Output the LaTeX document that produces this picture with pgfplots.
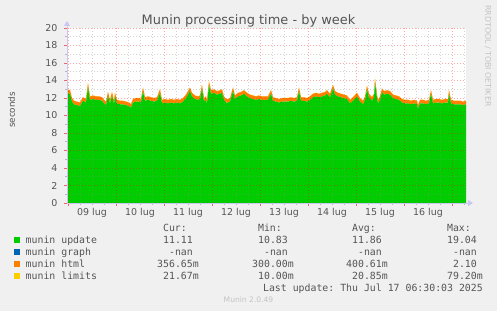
\documentclass[border=0pt]{standalone}
\usepackage{fontspec}
\setmainfont{DejaVu Sans}
\setmonofont{DejaVu Sans Mono}
\usepackage{pgfplots}
\usepackage{pgfplotstable}
\pgfplotsset{compat=1.18}
\usetikzlibrary{arrows.meta}

\definecolor{bgc}{HTML}{F0F0F0}
\definecolor{txt}{HTML}{555555}
\definecolor{cgreen}{HTML}{00CC00}
\definecolor{cblue}{HTML}{0066B3}
\definecolor{corange}{HTML}{FF8000}
\definecolor{cyellow}{HTML}{FFCC00}
\definecolor{lav}{HTML}{C8C8F0}
\definecolor{mgrid}{HTML}{FF0000}
\definecolor{ngrid}{HTML}{909090}
\definecolor{wm}{HTML}{C4C4C4}

\newcommand\legfont{\ttfamily\fontsize{9.9}{12}\selectfont}
\newcommand\axfont{\fontsize{9.5}{11}\selectfont}

\pgfplotstableread{
h upd html lim
-0.5 12.58 0.40 0.02
1 12.48 0.40 0.02
2 11.58 0.40 0.02
3 11.28 0.40 0.02
4.5 11.18 0.40 0.02
6 11.08 0.40 0.02
7.5 11.68 0.40 0.02
9 11.48 0.40 0.02
10 13.28 0.40 0.02
11 11.78 0.40 0.02
12.5 11.88 0.40 0.02
14 11.78 0.40 0.02
15.5 11.78 0.40 0.02
17 11.68 0.40 0.02
18 11.38 0.40 0.02
19 11.18 0.40 0.02
20 12.28 0.40 0.02
21 11.38 0.40 0.02
22 12.28 0.40 0.02
23 11.28 0.40 0.02
23.5 12.18 0.40 0.02
24.5 11.38 0.40 0.02
26 11.28 0.40 0.02
27.5 11.28 0.40 0.02
29 11.18 0.40 0.02
30.5 11.08 0.40 0.02
31.5 10.88 0.40 0.02
32.5 11.48 0.40 0.02
34 11.58 0.40 0.02
35.5 11.58 0.40 0.02
36.5 11.48 0.40 0.02
37.5 12.78 0.40 0.02
38.5 11.68 0.40 0.02
40 11.78 0.40 0.02
41.5 11.68 0.40 0.02
43 11.58 0.40 0.02
44.5 11.68 0.40 0.02
46 12.58 0.40 0.02
47 11.38 0.40 0.02
48.5 11.48 0.40 0.02
50 11.38 0.40 0.02
51.5 11.48 0.40 0.02
53 11.38 0.40 0.02
54.5 11.48 0.40 0.02
56 11.38 0.40 0.02
57.5 11.58 0.40 0.02
59 11.98 0.40 0.02
60 12.38 0.40 0.02
61 12.78 0.40 0.02
62 12.18 0.40 0.02
63.5 11.88 0.40 0.02
65 11.78 0.40 0.02
66 11.88 0.40 0.02
67 13.08 0.40 0.02
68 11.58 0.40 0.02
69 11.78 0.40 0.02
69.5 11.38 0.40 0.02
70.5 13.48 0.40 0.02
71.5 12.48 0.40 0.02
73 12.58 0.40 0.02
74.5 12.38 0.40 0.02
76 12.48 0.40 0.02
77 12.58 0.40 0.02
78 11.78 0.40 0.02
79 11.48 0.40 0.02
80 11.48 0.40 0.02
81 11.58 0.40 0.02
82.5 12.78 0.40 0.02
83.5 11.88 0.40 0.02
85 12.18 0.40 0.02
86.5 12.28 0.40 0.02
88 12.48 0.40 0.02
89.5 12.18 0.40 0.02
91 11.98 0.40 0.02
92.5 11.88 0.40 0.02
94 11.78 0.40 0.02
95.5 11.88 0.40 0.02
97 11.78 0.40 0.02
98.5 11.78 0.40 0.02
100 11.78 0.40 0.02
101.5 12.48 0.40 0.02
102.5 11.68 0.40 0.02
104 11.58 0.40 0.02
105.5 11.48 0.40 0.02
107 11.58 0.40 0.02
108.5 11.58 0.40 0.02
110 11.58 0.40 0.02
111.5 11.68 0.40 0.02
113 11.58 0.40 0.02
114.5 11.68 0.40 0.02
115.5 12.78 0.40 0.02
116.5 11.68 0.40 0.02
118 11.68 0.40 0.02
119.5 11.58 0.40 0.02
121 11.78 0.40 0.02
122.5 12.08 0.40 0.02
124 12.18 0.40 0.02
125.5 12.08 0.40 0.02
127 12.18 0.40 0.02
128.5 12.28 0.40 0.02
129.5 12.48 0.40 0.02
131 12.08 0.40 0.02
132.5 13.08 0.40 0.02
133.5 12.38 0.40 0.02
135 12.18 0.40 0.02
136.5 12.08 0.40 0.02
138 11.98 0.40 0.02
139.5 11.88 0.40 0.02
141 11.38 0.40 0.02
142.5 11.68 0.40 0.02
144.5 12.18 0.40 0.02
146 11.58 0.40 0.02
147.5 11.28 0.40 0.02
148.5 11.78 0.40 0.02
149.5 12.98 0.40 0.02
150.5 12.08 0.40 0.02
152 11.68 0.40 0.02
153 12.08 0.40 0.02
153.5 13.78 0.40 0.02
154.5 11.98 0.40 0.02
155 11.38 0.40 0.02
156 11.78 0.40 0.02
157 12.68 0.40 0.02
158 12.38 0.40 0.02
159.5 12.48 0.40 0.02
161 12.38 0.40 0.02
162.5 11.98 0.40 0.02
164 11.88 0.40 0.02
165.5 11.78 0.40 0.02
167 11.48 0.40 0.02
168.5 11.38 0.40 0.02
170 11.38 0.40 0.02
171.5 11.28 0.40 0.02
173 11.38 0.40 0.02
174.5 11.28 0.40 0.02
175 10.78 0.40 0.02
176 11.38 0.40 0.02
177.5 11.38 0.40 0.02
179 11.28 0.40 0.02
180.5 11.38 0.40 0.02
181.5 12.48 0.40 0.02
182.5 11.38 0.40 0.02
184 11.48 0.40 0.02
185.5 11.48 0.40 0.02
187 11.38 0.40 0.02
188.5 11.48 0.40 0.02
190 11.48 0.40 0.02
190.5 12.48 0.40 0.02
191.5 11.38 0.40 0.02
193 11.28 0.40 0.02
194.5 11.28 0.40 0.02
196 11.28 0.40 0.02
197.5 11.18 0.40 0.02
199 11.28 0.40 0.02
}\data

\begin{document}
\begin{tikzpicture}[x=1bp,y=1bp]
\fill[bgc] (0,0) rectangle (497,311);
\useasboundingbox (0,0) rectangle (497,311);
\begin{axis}[
  at={(67bp,108bp)}, anchor=south west,
  scale only axis, width=399bp, height=175bp,
  xmin=-0.5, xmax=199, ymin=0, ymax=20,
  stack plots=y,
  axis background/.style={fill=white},
  axis on top,
  axis lines=left,
  axis line style={draw=lav, line width=0.9bp, -{Triangle[length=5bp,width=6bp]}, shorten >=-7bp},
  xtick={0,24,...,192}, xticklabels={},
  minor xtick={6,12,18,30,36,42,54,60,66,78,84,90,102,108,114,126,132,138,150,156,162,174,180,186,198},
  extra x ticks={12,36,60,84,108,132,156,180},
  extra x tick labels={09 lug,10 lug,11 lug,12 lug,13 lug,14 lug,15 lug,16 lug},
  extra x tick style={grid=none, major tick length=0pt, tick style={draw=none}},
  ytick={0,2,...,20}, minor ytick={1,3,...,19},
  grid=both,
  major grid style={draw=mgrid, draw opacity=0.35, line width=0.6bp, dash pattern=on 1bp off 2bp},
  minor grid style={draw=ngrid, draw opacity=0.4, line width=0.6bp, dash pattern=on 1bp off 2bp},
  tick align=outside,
  major tick length=3bp, minor tick length=2bp,
  major tick style={draw=mgrid, draw opacity=0.6, line width=0.6bp},
  minor tick style={draw=ngrid, draw opacity=0.6, line width=0.6bp},
  tick label style={font=\axfont, text=txt},
  /pgf/number format/assume math mode=true,
  xticklabel style={anchor=center, yshift=-10bp},
  yticklabel style={anchor=east, xshift=-3bp},
  clip=true,
]
\addplot[fill=cgreen, draw=none] table[x=h, y=upd] {\data} \closedcycle;
\addplot[fill=corange, draw=none] table[x=h, y=html] {\data} \closedcycle;
\addplot[fill=cyellow, draw=none] table[x=h, y=lim] {\data} \closedcycle;
\end{axis}

% title and labels
\node[anchor=base, inner sep=0pt, text=txt, font=\fontsize{13}{15}\selectfont] at (248.5,287) {Munin processing time - by week};
\node[rotate=90, inner sep=0pt, text=txt, font=\fontsize{8.8}{10}\selectfont] at (11.5,201) {seconds};
\node[rotate=-90, anchor=west, inner sep=0pt, text=wm, font=\fontsize{7.9}{9}\selectfont] at (488,306) {RRDTOOL / TOBI OETIKER};

% legend
\tikzset{lg/.style={font=\legfont, text=txt, inner sep=0pt, anchor=base east}}
\tikzset{lgw/.style={font=\legfont, text=txt, inner sep=0pt, anchor=base west}}
\node[lg] at (187.06,79.6) {Cur:};
\node[lg] at (282.06,79.6) {Min:};
\node[lg] at (376.06,79.6) {Avg:};
\node[lg] at (471.06,79.6) {Max:};

\fill[cgreen] (14,68) rectangle (20,74);
\node[lgw] at (25.5,67.5) {munin update};
\node[lg] at (193.03,67.5) {11.11};
\node[lg] at (288.03,67.5) {10.83};
\node[lg] at (382.03,67.5) {11.86};
\node[lg] at (477.03,67.5) {19.04};

\fill[cblue] (14,56) rectangle (20,62);
\node[lgw] at (25.5,55.5) {munin graph};
\node[lg] at (193.03,55.5) {-nan};
\node[lg] at (288.03,55.5) {-nan};
\node[lg] at (382.03,55.5) {-nan};
\node[lg] at (477.03,55.5) {-nan};

\fill[corange] (14,44) rectangle (20,50);
\node[lgw] at (25.5,43.5) {munin html};
\node[lg] at (199,43.5) {356.65m};
\node[lg] at (294,43.5) {300.00m};
\node[lg] at (388,43.5) {400.61m};
\node[lg] at (477.03,43.5) {2.10};

\fill[cyellow] (14,32) rectangle (20,38);
\node[lgw] at (25.5,31.5) {munin limits};
\node[lg] at (199,31.5) {21.67m};
\node[lg] at (294,31.5) {10.00m};
\node[lg] at (388,31.5) {20.85m};
\node[lg] at (483,31.5) {79.20m};

\node[lg] at (483,19.5) {Last update: Thu Jul 17 06:30:03 2025};
\node[inner sep=0pt, text=wm, font=\fontsize{7.6}{9}\selectfont] at (248.5,11) {Munin 2.0.49};
\end{tikzpicture}
\end{document}
